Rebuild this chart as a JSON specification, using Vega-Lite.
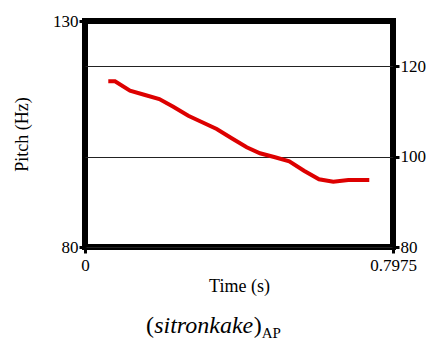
{
  "$schema": "https://vega.github.io/schema/vega-lite/v6.json",
  "width": 308,
  "height": 226,
  "autosize": {"type": "none"},
  "padding": {"left": 85, "top": 21, "right": 36, "bottom": 104},
  "background": "white",
  "config": {
    "view": {"stroke": "black", "strokeWidth": 6},
    "font": "Liberation Serif",
    "style": {"guide-label": {"font": "Liberation Serif"}, "guide-title": {"font": "Liberation Serif"}},
    "text": {"font": "Liberation Serif"},
    "axis": {
      "labelFont": "Liberation Serif",
      "titleFont": "Liberation Serif",
      "labelColor": "black",
      "titleColor": "black",
      "labelFontSize": 17,
      "titleFontSize": 18,
      "titleFontWeight": "normal",
      "tickColor": "black",
      "tickWidth": 3,
      "tickSize": 6,
      "domain": false,
      "grid": false,
      "labelFlush": false
    }
  },
  "layer": [
    {
      "data": {
        "values": [
          {"t": 0.0603, "p": 116.66},
          {"t": 0.0777, "p": 116.66},
          {"t": 0.1165, "p": 114.58},
          {"t": 0.1554, "p": 113.63},
          {"t": 0.1924, "p": 112.74},
          {"t": 0.2286, "p": 111.04},
          {"t": 0.2675, "p": 109.05},
          {"t": 0.3063, "p": 107.5},
          {"t": 0.341, "p": 106.1},
          {"t": 0.3798, "p": 104.05},
          {"t": 0.4187, "p": 102.06},
          {"t": 0.4531, "p": 100.73},
          {"t": 0.492, "p": 99.85},
          {"t": 0.529, "p": 98.96},
          {"t": 0.567, "p": 96.88},
          {"t": 0.6059, "p": 94.98},
          {"t": 0.6429, "p": 94.45},
          {"t": 0.6818, "p": 94.82},
          {"t": 0.7361, "p": 94.82}
        ]
      },
      "mark": {"type": "line", "color": "#dd0000", "strokeWidth": 4, "strokeCap": "butt"},
      "encoding": {
        "x": {
          "field": "t",
          "type": "quantitative",
          "scale": {"domain": [0, 0.7975], "nice": false, "zero": false},
          "axis": {"values": [0, 0.7975], "labelExpr": "datum.value == 0 ? '0' : '0.7975'", "labelFont": "Liberation Serif", "labelFlush": false, "title": "Time (s)", "labelPadding": 4, "titlePadding": 4}
        },
        "y": {
          "field": "p",
          "type": "quantitative",
          "scale": {"domain": [80, 130], "nice": false, "zero": false},
          "axis": {"orient": "left", "values": [80, 130], "labelFont": "Liberation Serif", "labelFlush": false, "title": "Pitch (Hz)", "labelPadding": 1, "titlePadding": 21}
        }
      }
    },
    {
      "data": {"values": [{"piece": "("}]},
      "mark": {"type": "text", "fontSize": 24, "font": "Liberation Serif", "align": "left", "baseline": "alphabetic", "color": "black"},
      "encoding": {
        "text": {"field": "piece"},
        "x": {"datum": 0.1580, "type": "quantitative", "axis": null},
        "y": {"datum": 60.97, "type": "quantitative", "axis": {"orient": "right", "values": [80, 100, 120], "labelFont": "Liberation Serif", "labelFlush": false, "grid": true, "gridColor": "#222222", "gridWidth": 1, "title": null, "labelPadding": 1}}
      }
    },
    {
      "data": {"values": [{"piece": "sitronkake"}]},
      "mark": {"type": "text", "fontSize": 24, "font": "Liberation Serif", "fontStyle": "italic", "align": "left", "baseline": "alphabetic", "color": "black"},
      "encoding": {
        "text": {"field": "piece"},
        "x": {"datum": 0.1790, "type": "quantitative", "axis": null},
        "y": {"datum": 60.97, "type": "quantitative", "axis": null}
      }
    },
    {
      "data": {"values": [{"piece": ")"}]},
      "mark": {"type": "text", "fontSize": 24, "font": "Liberation Serif", "align": "left", "baseline": "alphabetic", "color": "black"},
      "encoding": {
        "text": {"field": "piece"},
        "x": {"datum": 0.4370, "type": "quantitative", "axis": null},
        "y": {"datum": 60.97, "type": "quantitative", "axis": null}
      }
    },
    {
      "data": {"values": [{"piece": "AP"}]},
      "mark": {"type": "text", "fontSize": 15, "font": "Liberation Serif", "align": "left", "baseline": "alphabetic", "color": "black"},
      "encoding": {
        "text": {"field": "piece"},
        "x": {"datum": 0.4575, "type": "quantitative", "axis": null},
        "y": {"datum": 59.87, "type": "quantitative", "axis": null}
      }
    }
  ],
  "resolve": {"axis": {"x": "independent", "y": "independent"}}
}
